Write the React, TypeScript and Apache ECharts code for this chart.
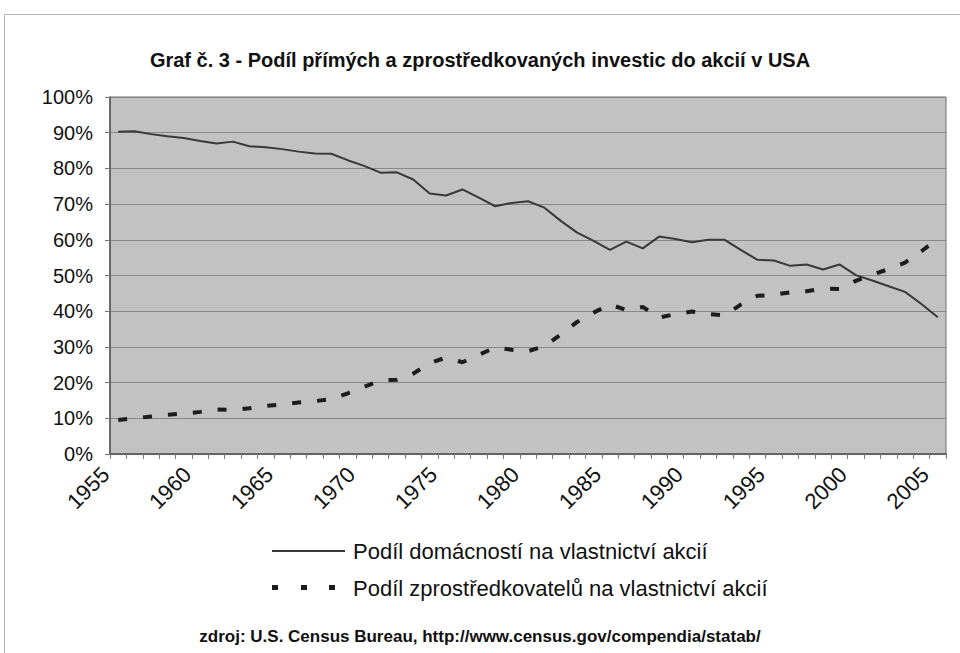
import React, { useEffect, useRef } from "react";
import * as echarts from "echarts";

const years: string[] = [];
for (let y = 1955; y <= 2005; y++) years.push(String(y));

const households: number[] = [
  90.3, 90.4, 89.6, 89.0, 88.5, 87.7, 87.0, 87.5, 86.2, 85.9,
  85.4, 84.7, 84.2, 84.1, 82.3, 80.7, 78.8, 78.9, 76.9, 73.0,
  72.4, 74.1, 71.8, 69.4, 70.3, 70.8, 69.0, 65.3, 62.0, 59.7,
  57.2, 59.5, 57.6, 60.9, 60.2, 59.3, 60.0, 60.0, 57.1, 54.4,
  54.2, 52.7, 53.1, 51.7, 53.1, 50.1, 48.6, 47.0, 45.4, 42.0,
  38.3,
];

const intermediaries: number[] = [
  9.5, 10.0, 10.5, 11.0, 11.3, 11.8, 12.5, 12.3, 12.8, 13.5,
  13.9, 14.4, 14.8, 15.4, 17.0, 18.8, 20.6, 20.8, 22.5, 25.5,
  27.0, 25.7, 27.8, 29.8, 29.2, 28.8, 30.2, 33.5, 37.0, 39.6,
  41.9, 40.3, 41.2, 38.2, 39.2, 39.9, 39.2, 38.8, 41.9, 44.3,
  44.6, 45.3, 45.6, 46.3, 46.2, 48.5, 50.2, 51.8, 53.6, 56.8,
  60.3,
];

const seriesNames = [
  "Podíl domácností na vlastnictví akcií",
  "Podíl zprostředkovatelů na vlastnictví akcií",
];
const titleText = "Graf č. 3 - Podíl přímých a zprostředkovaných investic do akcií v USA";
const sourceText = "zdroj: U.S. Census Bureau, http://www.census.gov/compendia/statab/";

const FONT = "'Liberation Sans', Arial, sans-serif";
const SOLID = "#383838";
const DASH = "#1c1c1c";

export default function App() {
  const ref = useRef<HTMLDivElement>(null);
  useEffect(() => {
    if (!ref.current) return;
    const chart = echarts.init(ref.current, undefined, { renderer: "svg" });
    chart.setOption({
      animation: false,
      backgroundColor: "#ffffff",
      title: {
        text: titleText,
        left: "center",
        top: 45,
        textStyle: { fontFamily: FONT, fontSize: 20, fontWeight: "bold", color: "#111" },
      },
      grid: {
        left: 110,
        right: 14,
        top: 97,
        bottom: 199,
        show: true,
        backgroundColor: "#c2c2c2",
        borderColor: "#6e6e6e",
        borderWidth: 1,
      },
      legend: { show: false },
      xAxis: {
        type: "category",
        data: years,
        boundaryGap: true,
        axisLine: { lineStyle: { color: "#555", width: 1.5 } },
        axisTick: { show: true, interval: 0, length: 5, lineStyle: { color: "#777" } },
        axisLabel: {
          interval: 4,
          rotate: 45,
          margin: 4,
          padding: [0, 18, 0, 0],
          fontFamily: FONT,
          fontSize: 22,
          color: "#111",
        },
        splitLine: { show: false },
      },
      yAxis: {
        type: "value",
        min: 0,
        max: 100,
        interval: 10,
        axisLine: { show: true, lineStyle: { color: "#555", width: 1.5 } },
        axisTick: { show: true, length: 5, lineStyle: { color: "#777" } },
        axisLabel: {
          formatter: "{value}%",
          margin: 17,
          fontFamily: FONT,
          fontSize: 20,
          color: "#111",
        },
        splitLine: { show: true, lineStyle: { color: "#878787", width: 1 } },
      },
      series: [
        {
          name: seriesNames[0],
          type: "line",
          data: households,
          symbol: "none",
          lineStyle: { color: SOLID, width: 2 },
          itemStyle: { color: SOLID },
        },
        {
          name: seriesNames[1],
          type: "line",
          data: intermediaries,
          symbol: "none",
          lineStyle: { color: DASH, width: 4, type: [9, 16] },
          itemStyle: { color: DASH },
        },
      ],
      graphic: [
        {
          type: "rect",
          shape: { x: 4.5, y: 14.5, width: 970, height: 660 },
          style: { fill: "none", stroke: "#b5b5b5", lineWidth: 1 },
          silent: true,
        },
        {
          type: "line",
          shape: { x1: 272, y1: 551, x2: 345, y2: 551 },
          style: { stroke: SOLID, lineWidth: 2 },
        },
        {
          type: "text",
          x: 353,
          y: 551,
          style: {
            text: seriesNames[0],
            fontFamily: FONT,
            fontSize: 22,
            fill: "#111",
            align: "left",
            verticalAlign: "middle",
          },
        },
        { type: "rect", shape: { x: 272, y: 585, width: 6, height: 5 }, style: { fill: DASH } },
        { type: "rect", shape: { x: 301, y: 585, width: 6, height: 5 }, style: { fill: DASH } },
        { type: "rect", shape: { x: 329, y: 585, width: 6, height: 5 }, style: { fill: DASH } },
        {
          type: "text",
          x: 353,
          y: 588,
          style: {
            text: seriesNames[1],
            fontFamily: FONT,
            fontSize: 22,
            fill: "#111",
            align: "left",
            verticalAlign: "middle",
          },
        },
        {
          type: "text",
          x: 480,
          y: 636,
          style: {
            text: sourceText,
            fontFamily: FONT,
            fontSize: 17,
            fontWeight: "bold",
            fill: "#111",
            align: "center",
            verticalAlign: "middle",
          },
        },
      ],
    });
    return () => chart.dispose();
  }, []);
  return (
    <div
      ref={ref}
      style={{ position: "fixed", left: 0, top: 0, width: 960, height: 653 }}
    />
  );
}
